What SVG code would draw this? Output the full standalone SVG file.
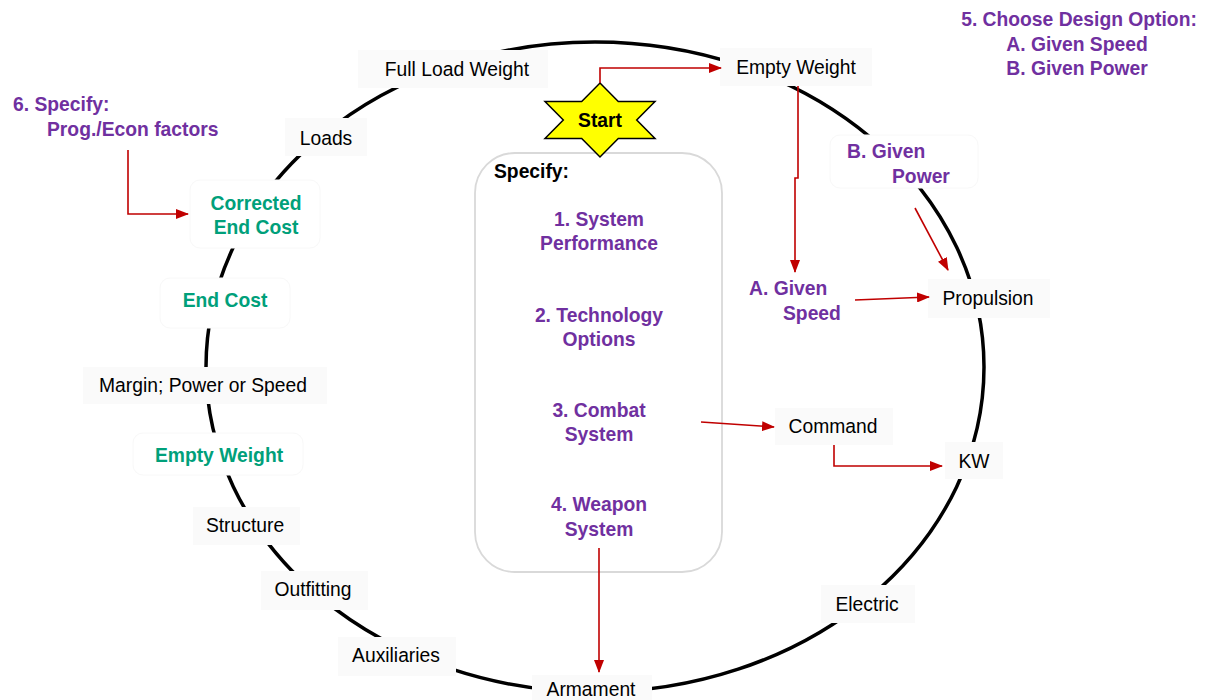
<svg xmlns="http://www.w3.org/2000/svg" width="1206" height="700" viewBox="0 0 1206 700">
<style>
text{font-family:"Liberation Sans",Arial,sans-serif;font-size:19.3px}
.lbl{fill:#000;text-anchor:middle}
.b{font-weight:bold}
.pu{fill:#7030A0;font-weight:bold}
.gr{fill:#00A07A;font-weight:bold;text-anchor:middle}
.mid{text-anchor:middle}
.box{fill:#fafafa}
.wbox{fill:#fff;stroke:#f8f8f8;stroke-width:1}
.arr{fill:none;stroke:#C00000;stroke-width:1.6;marker-end:url(#ah)}
</style>
<defs>
<marker id="ah" markerUnits="userSpaceOnUse" markerWidth="13" markerHeight="10" refX="12" refY="5" orient="auto">
<path d="M0,0 L13,5 L0,10 z" fill="#C00000"/>
</marker>
</defs>
<rect width="1206" height="700" fill="#fff"/>
<ellipse id="cycle" cx="595" cy="367" rx="389" ry="325" fill="none" stroke="#000" stroke-width="3.5"/>

<g id="specify-panel">
<rect x="475" y="153" width="247" height="419" rx="40" fill="#fff" stroke="#d9d9d9" stroke-width="1.8"/>
<text x="494" y="178" class="b">Specify:</text>
<text x="599" y="226" class="pu mid">1. System</text>
<text x="599" y="250" class="pu mid">Performance</text>
<text x="599" y="322" class="pu mid">2. Technology</text>
<text x="599" y="346" class="pu mid">Options</text>
<text x="599" y="417" class="pu mid">3. Combat</text>
<text x="599" y="441" class="pu mid">System</text>
<text x="599" y="511" class="pu mid">4. Weapon</text>
<text x="599" y="536" class="pu mid">System</text>
</g>

<g id="full-load-weight"><rect class="box" x="358" y="50" width="190" height="38"/><text class="lbl" x="457" y="76">Full Load Weight</text></g>
<g id="empty-weight-top"><rect class="box" x="720" y="48" width="152" height="38"/><text class="lbl" x="796" y="74">Empty Weight</text></g>
<g id="loads"><rect class="box" x="285" y="118" width="82" height="38"/><text class="lbl" x="326" y="145">Loads</text></g>
<g id="propulsion"><rect class="box" x="928" y="279" width="122" height="39"/><text class="lbl" x="988" y="305">Propulsion</text></g>
<g id="command"><rect class="box" x="775" y="408" width="118" height="37"/><text class="lbl" x="833" y="433">Command</text></g>
<g id="kw"><rect class="box" x="945" y="442" width="58" height="37"/><text class="lbl" x="974" y="468">KW</text></g>
<g id="electric"><rect class="box" x="821" y="585" width="94" height="38"/><text class="lbl" x="867" y="611">Electric</text></g>
<g id="armament"><rect class="box" x="532" y="675" width="120" height="25"/><text class="lbl" x="591" y="696">Armament</text></g>
<g id="auxiliaries"><rect class="box" x="338" y="637" width="118" height="39"/><text class="lbl" x="396" y="662">Auxiliaries</text></g>
<g id="outfitting"><rect class="box" x="261" y="571" width="107" height="39"/><text class="lbl" x="313" y="596">Outfitting</text></g>
<g id="structure"><rect class="box" x="193" y="507" width="107" height="38"/><text class="lbl" x="245" y="532">Structure</text></g>
<g id="margin"><rect class="box" x="83" y="367" width="244" height="37"/><text class="lbl" x="203" y="392">Margin; Power or Speed</text></g>

<g id="empty-weight-green"><rect class="wbox" x="133" y="433" width="170" height="42" rx="10"/><text class="gr" x="219" y="462">Empty Weight</text></g>
<g id="end-cost"><rect class="wbox" x="160" y="278" width="130" height="50" rx="10"/><text class="gr" x="225" y="307">End Cost</text></g>
<g id="corrected-end-cost"><rect class="wbox" x="190" y="180" width="130" height="68" rx="10"/><text class="gr" x="256" y="210">Corrected</text><text class="gr" x="256" y="234">End Cost</text></g>
<g id="given-power"><rect class="wbox" x="830" y="135" width="148" height="53" rx="10"/><text class="pu" x="847" y="158">B. Given</text><text class="pu" x="892" y="183">Power</text></g>
<g id="given-speed"><text class="pu" x="749" y="295">A. Given</text><text class="pu" x="783" y="320">Speed</text></g>

<g id="specify-6"><text class="pu" x="13" y="111">6. Specify:</text><text class="pu" x="47" y="136">Prog./Econ factors</text></g>
<g id="choose-5"><text class="pu mid" x="1079" y="26">5. Choose Design Option:</text><text class="pu mid" x="1077" y="51">A. Given Speed</text><text class="pu mid" x="1077" y="75">B. Given Power</text></g>

<g id="start">
<polygon points="600,83 618.3,101.5 655,101.5 636.7,120 655,138.5 618.3,138.5 600,157 581.7,138.5 545,138.5 563.3,120 545,101.5 581.7,101.5" fill="#FFFF00" stroke="#000" stroke-width="1.5"/>
<text class="b mid" x="600" y="127">Start</text>
</g>

<g id="connectors">
<path class="arr" d="M600,83 V68 H721"/>
<path class="arr" d="M798,86 V178 H795 V272"/>
<path class="arr" d="M915,208 L948,270"/>
<path class="arr" d="M855,300 L929,297"/>
<path class="arr" d="M701,422 L774,427"/>
<path class="arr" d="M834,445 V466 H942"/>
<path class="arr" d="M599,548 V672"/>
<path class="arr" d="M128,150 V214 H188"/>
</g>
</svg>
